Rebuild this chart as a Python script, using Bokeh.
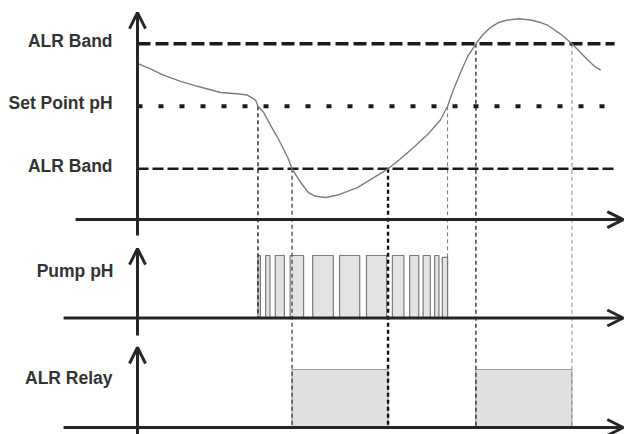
from bokeh.plotting import figure
from bokeh.models import Range1d, Arrow, OpenHead
from bokeh.core.properties import value
from bokeh.embed import file_html
from bokeh.resources import INLINE

# ---------------- data ----------------
# measured pH over time (time in arbitrary units)
curve_t = [0.2, 2.7, 5.4, 9.0, 12.5, 17.3, 20.8, 22.9, 24.6, 25.1, 26.3, 27.7,
           29.2, 31.3, 32.2, 34.0, 35.6, 37.1, 39.2, 41.7, 45.8, 49.2, 52.2,
           54.8, 57.5, 60.6, 63.1, 64.6, 65.8, 67.3, 68.8, 70.5, 71.9, 73.5,
           75.2, 77.1, 79.4, 81.9, 84.0, 85.4, 86.9, 88.1, 90.5, 92.3, 93.8,
           95.2, 96.5]
curve_ph = [7.34, 7.30, 7.25, 7.20, 7.16, 7.11, 7.10, 7.09, 7.05, 7.00, 6.95,
            6.85, 6.75, 6.59, 6.50, 6.39, 6.31, 6.28, 6.27, 6.29, 6.35, 6.43,
            6.50, 6.58, 6.67, 6.78, 6.89, 7.00, 7.13, 7.27, 7.40, 7.50, 7.57,
            7.63, 7.67, 7.69, 7.70, 7.69, 7.67, 7.65, 7.61, 7.58, 7.50, 7.43,
            7.37, 7.32, 7.29]

threshold_names = ["ALR Band", "Set Point pH", "ALR Band"]
threshold_ph = [7.5, 7.0, 6.5]

# pump dosing pulses
pump_start = [25.1, 26.7, 28.7, 31.8, 36.5, 42.1, 47.7, 53.1, 56.7, 59.5, 61.9, 63.5]
pump_stop = [25.6, 27.6, 30.6, 34.6, 40.8, 46.3, 51.9, 55.5, 58.6, 61.0, 62.8, 64.6]
pump_level = [1, 1, 1, 1, 1, 1, 1, 1, 1, 1, 1, 0.97]

# alarm relay active intervals
relay_start = [32.2, 70.5]
relay_stop = [52.2, 90.5]
relay_level = [1, 1]

# events (threshold crossings) projected down to the lower panels
event_t = [25.1, 32.2, 52.2, 64.6, 70.5, 90.5]
event_ph = [7.0, 6.5, 6.5, 7.0, 7.5, 7.5]
event_panel = ["pump", "relay", "relay", "pump", "relay", "relay"]

panel_names = ["Pump pH", "ALR Relay"]

assert len(curve_t) == len(curve_ph)

# ---------------- layout ----------------
W, H = 626, 434
AX = "#262626"
FONT = value("Liberation Sans")

ph_rng = Range1d(4.3744, 7.8464)
pump_rng = Range1d(-1.864, 5.08)
relay_rng = Range1d(-0.1207, 7.3621)

p = figure(width=W, height=H, output_backend="svg", toolbar_location=None,
           x_range=Range1d(-28.5417, 101.875), y_range=ph_rng,
           x_axis_type=None, y_axis_type=None, min_border=0)
p.outline_line_color = None
p.extra_y_ranges = {"pump": pump_rng, "relay": relay_rng}


def to_ph(v, rng):
    frac = (v - rng.start) / (rng.end - rng.start)
    return ph_rng.start + frac * (ph_rng.end - ph_rng.start)


# pump pulses
p.quad(left=pump_start, right=pump_stop, bottom=0, top=pump_level,
       y_range_name="pump", fill_color="#e3e3e3", line_color="#7a7a7a",
       line_width=1.2)

# relay active areas
p.quad(left=relay_start, right=relay_stop, bottom=0, top=relay_level,
       y_range_name="relay", fill_color="#e0e0e0", line_color="#9a9a9a",
       line_width=1)

# vertical drop lines
drop_colors = ["#222222", "#333333", "#111111", "#777777", "#333333", "#888888"]
drop_widths = [1.4, 1.2, 2.4, 1.0, 1.4, 1.0]
for t, lvl, pan, c, w in zip(event_t, event_ph, event_panel, drop_colors, drop_widths):
    rng = pump_rng if pan == "pump" else relay_rng
    p.segment(x0=[t], y0=[lvl], x1=[t], y1=[to_ph(0, rng)],
              line_color=c, line_width=w, line_dash="4 3")

# threshold lines
t_end = 99.4
p.segment(x0=[0], y0=[threshold_ph[0]], x1=[t_end], y1=[threshold_ph[0]],
          line_color="#1a1a1a", line_width=3.5, line_dash="13 5")
p.segment(x0=[0], y0=[threshold_ph[1]], x1=[t_end], y1=[threshold_ph[1]],
          line_color="#1a1a1a", line_width=4, line_dash="5 16")
p.segment(x0=[0], y0=[threshold_ph[2]], x1=[t_end], y1=[threshold_ph[2]],
          line_color="#1a1a1a", line_width=2.6, line_dash="11 4")

# pH curve
p.line(curve_t, curve_ph, line_color="#7d7d7d", line_width=1.4)

# axes with arrows
head = dict(size=16, line_width=3, line_color=AX)
# top panel
p.add_layout(Arrow(end=OpenHead(**head), x_start=0, y_start=5.966, x_end=0,
                   y_end=7.75, line_width=3, line_color=AX))
p.add_layout(Arrow(end=OpenHead(**head), x_start=-12.9, y_start=6.094,
                   x_end=101.2, y_end=6.094, line_width=3, line_color=AX))
# pump panel
p.add_layout(Arrow(end=OpenHead(**head), x_start=0, y_start=-0.28, x_end=0,
                   y_end=1.11, line_width=3, line_color=AX, y_range_name="pump"))
p.add_layout(Arrow(end=OpenHead(**head), x_start=-15.4, y_start=0, x_end=101.2,
                   y_end=0, line_width=3, line_color=AX, y_range_name="pump"))
# relay panel
p.add_layout(Arrow(end=OpenHead(**head), x_start=0, y_start=-0.12, x_end=0,
                   y_end=1.38, line_width=3, line_color=AX, y_range_name="relay"))
p.add_layout(Arrow(end=OpenHead(**head), x_start=-15.4, y_start=0, x_end=101.2,
                   y_end=0, line_width=3, line_color=AX, y_range_name="relay"))

# labels
txt = dict(text_font=FONT, text_font_style="bold", text_font_size="17.5px",
           text_align="right", text_baseline="middle", text_color="#333333")
p.text(x=[-5.2] * 3, y=threshold_ph, text=threshold_names, y_offset=-3, **txt)
p.text(x=[-5.0], y=[0.76], text=[panel_names[0]], y_range_name="pump", **txt)
p.text(x=[-5.2], y=[0.86], text=[panel_names[1]], y_range_name="relay", **txt)

open("out.html", "w").write(file_html(p, INLINE))
